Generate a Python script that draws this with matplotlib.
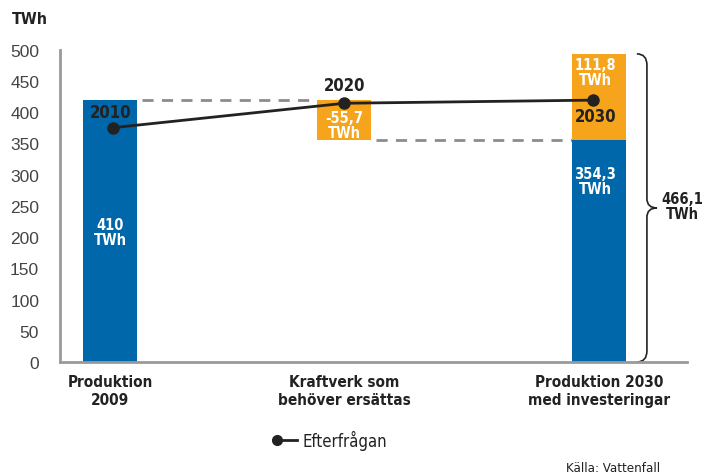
import numpy as np
import matplotlib
matplotlib.use("Agg")
import matplotlib.pyplot as plt
from matplotlib.path import Path
from matplotlib.patches import PathPatch
from matplotlib.lines import Line2D

# data (bars are drawn as in the original, labels as printed)
categories = ["Produktion\n2009", "Kraftverk som\nbehöver ersättas", "Produktion 2030\nmed investeringar"]
prod_2009 = 419
replace_top = 419
replace_bottom = 356
prod_2030_base = 356
prod_2030_new_top = 493
demand_years = ["2010", "2020", "2030"]
demand = [375, 414, 419]
bar_labels = ["410\nTWh", "-55,7\nTWh", "354,3\nTWh", "111,8\nTWh"]
total_label = "466,1\nTWh"
yticks = [0, 50, 100, 150, 200, 250, 300, 350, 400, 450, 500]

blue = "#0067ab"
orange = "#f6a41c"
grey = "#8c8c8c"
dark = "#222222"

cond = dict(family="DejaVu Sans", stretch="condensed")

xpos = [0.0, 1.0, 2.085]
demand_x = [0.015, 1.0, 2.06]
w = 0.23

fig = plt.figure(figsize=(7.05, 4.77), dpi=100)
ax = fig.add_axes([0.0851, 0.2390, 0.8894, 0.6551])

ax.bar(xpos[0], prod_2009, width=w, color=blue, zorder=2)
ax.bar(xpos[1], replace_top - replace_bottom, bottom=replace_bottom, width=w, color=orange, zorder=2)
ax.bar(xpos[2], prod_2030_base, width=w, color=blue, zorder=2)
ax.bar(xpos[2], prod_2030_new_top - prod_2030_base, bottom=prod_2030_base, width=w, color=orange, zorder=2)

# connector lines
ax.plot([xpos[0] + w / 2 + 0.02, xpos[1] - w / 2], [replace_top, replace_top],
        color=grey, lw=2, ls=(0, (4, 3)), zorder=1)
ax.plot([xpos[1] + w / 2 + 0.02, xpos[2] - w / 2], [replace_bottom, replace_bottom],
        color=grey, lw=2, ls=(0, (4, 3)), zorder=1)

# demand line
ax.plot(demand_x, demand, color=dark, lw=2, marker="o", ms=8, zorder=4)

# labels in bars
lab = dict(ha="center", va="center", color="white", fontsize=10.5, fontweight="bold",
           linespacing=1.0, **cond)
ax.text(xpos[0], 208, bar_labels[0], **lab)
ax.text(xpos[1], 380, bar_labels[1], **lab)
ax.text(xpos[2] - 0.015, 290, bar_labels[2], **lab)
ax.text(xpos[2] - 0.015, 464, bar_labels[3], **lab)

# year labels
yr = dict(ha="center", va="center", color=dark, fontsize=12, fontweight="bold", **cond)
ax.text(xpos[0] + 0.005, 400, demand_years[0], **yr)
ax.text(xpos[1], 443, demand_years[1], **yr)
ax.text(xpos[2] - 0.015, 394, demand_years[2], **yr)

# curly brace
x0, x1, xt = 2.247, 2.29, 2.333
top, bot = prod_2030_new_top, 0
mid = (top + bot) / 2
verts = [(x0, top),
         (x1, top), (x1, top - 18),
         (x1, mid + 15),
         (x1, mid), (xt, mid),
         (x1, mid), (x1, mid - 15),
         (x1, bot + 18),
         (x1, bot), (x0, bot)]
codes = [Path.MOVETO,
         Path.CURVE3, Path.CURVE3,
         Path.LINETO,
         Path.CURVE3, Path.CURVE3,
         Path.CURVE3, Path.CURVE3,
         Path.LINETO,
         Path.CURVE3, Path.CURVE3]
ax.add_patch(PathPatch(Path(verts, codes), fill=False, lw=1.2, edgecolor=dark, clip_on=False))
ax.text(2.443, 250, total_label, ha="center", va="center", color=dark,
        fontsize=10.5, fontweight="bold", linespacing=1.0, **cond)

ax.set_xlim(-0.213, 2.461)
ax.set_ylim(0, 500)
ax.set_yticks(yticks)
ax.set_yticklabels([str(t) for t in yticks], fontsize=12.5, color="#444444", family="Liberation Sans")
ax.tick_params(axis="y", length=0, pad=15)
ax.set_xticks(xpos)
ax.set_xticklabels(categories, fontsize=11, fontweight="bold", color=dark, linespacing=1.25, **cond)
ax.tick_params(axis="x", length=0, pad=9)
for s in ["top", "right"]:
    ax.spines[s].set_visible(False)
for s in ["left", "bottom"]:
    ax.spines[s].set_color("#999999")
    ax.spines[s].set_linewidth(2)

fig.text(12 / 705, 1 - 20 / 477, "TWh", ha="left", va="center", fontsize=11.5,
         fontweight="bold", color=dark, **cond)

# legend
fig.add_artist(Line2D([277 / 705, 297 / 705], [1 - 441 / 477] * 2, color=dark, lw=2))
fig.add_artist(Line2D([277 / 705], [1 - 441 / 477], color=dark, marker="o", ms=7, lw=0))
fig.text(302 / 705, 1 - 441 / 477, "Efterfrågan", ha="left", va="center", fontsize=12,
         color=dark, **cond)
fig.text(660 / 705, 1 - 469 / 477, "Källa: Vattenfall", ha="right", va="center", fontsize=9.5,
         color=dark, **cond)

fig.savefig("out.png", dpi=100)
